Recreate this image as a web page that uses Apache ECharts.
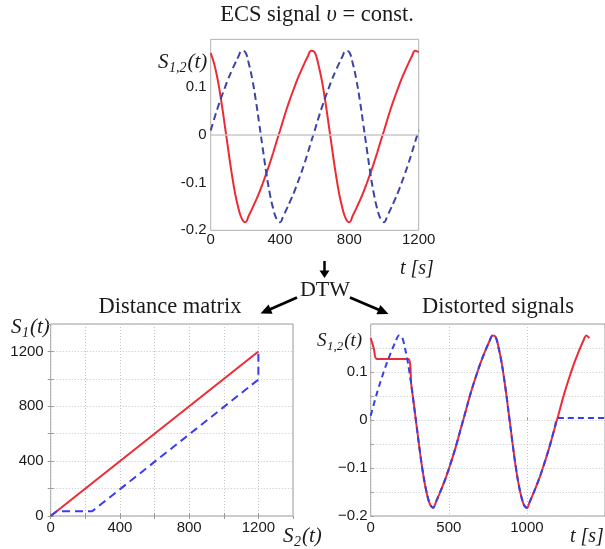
<!DOCTYPE html>
<html>
<head>
<meta charset="utf-8">
<script src="https://cdn.jsdelivr.net/npm/echarts@6/dist/echarts.min.js"></script>
<style>
  html, body { margin: 0; padding: 0; background: #fff; }
  #main { width: 605px; height: 549px; }
</style>
</head>
<body>
<div id="main"></div>
<script>
// ---- ECS signals at constant velocity (time in s) ----
const sampleTimes = [
  0, 20, 40, 60, 80, 100, 120, 140, 160, 180,
  200, 220, 240, 260, 280, 300, 320, 340, 360, 380,
  400, 420, 440, 460, 480, 500, 520, 540, 560, 580,
  600, 620, 640, 660, 680, 700, 720, 740, 760, 780,
  800, 820, 840, 860, 880, 900, 920, 940, 960, 980,
  1000, 1020, 1040, 1060, 1080, 1100, 1120, 1140, 1160, 1180, 1200
];
const signalS1 = [
  0.171, 0.149, 0.116, 0.073, 0.023, -0.028, -0.078, -0.121, -0.154, -0.176,
  -0.183, -0.169, -0.154, -0.138, -0.121, -0.102, -0.082, -0.061, -0.038, -0.014,
  0.009, 0.033, 0.056, 0.077, 0.097, 0.116, 0.133, 0.149, 0.164, 0.176,
  0.173, 0.149, 0.116, 0.073, 0.023, -0.028, -0.078, -0.121, -0.154, -0.176,
  -0.183, -0.169, -0.154, -0.138, -0.121, -0.102, -0.082, -0.061, -0.038, -0.014,
  0.009, 0.033, 0.056, 0.077, 0.097, 0.116, 0.133, 0.149, 0.164, 0.176, 0.173
];
const signalS2 = [
  0.009, 0.033, 0.056, 0.077, 0.097, 0.116, 0.133, 0.149, 0.164, 0.176,
  0.173, 0.149, 0.116, 0.073, 0.023, -0.028, -0.078, -0.121, -0.154, -0.176,
  -0.183, -0.169, -0.154, -0.138, -0.121, -0.102, -0.082, -0.061, -0.038, -0.014,
  0.009, 0.033, 0.056, 0.077, 0.097, 0.116, 0.133, 0.149, 0.164, 0.176,
  0.173, 0.149, 0.116, 0.073, 0.023, -0.028, -0.078, -0.121, -0.154, -0.176,
  -0.183, -0.169, -0.154, -0.138, -0.121, -0.102, -0.082, -0.061, -0.038, -0.014, 0.009
];

// ---- DTW distance matrix: identity diagonal and optimal warping path ----
const diagonalS2 = [0, 1200];
const diagonalS1 = [0, 1200];
const warpPathS2 = [0, 35, 240, 1200, 1200];
const warpPathS1 = [0, 35, 35, 995, 1200];

// ---- Signals after warping ----
const distortedTimesS1 = [
  0, 20, 40, 240, 260, 280, 300, 320, 340, 360, 380,
  400, 420, 440, 460, 480, 500, 520, 540, 560, 580,
  600, 620, 640, 660, 680, 700, 720, 740, 760, 780,
  800, 820, 840, 860, 880, 900, 920, 940, 960, 980,
  1000, 1020, 1040, 1060, 1080, 1100, 1120, 1140, 1160, 1180,
  1200, 1220, 1240, 1260, 1280, 1300, 1320, 1340, 1360, 1380, 1400
];
const distortedS1 = [
  0.171, 0.149, 0.127, 0.127, 0.073, 0.023, -0.028, -0.078, -0.121, -0.154, -0.176,
  -0.183, -0.169, -0.154, -0.138, -0.121, -0.102, -0.082, -0.061, -0.038, -0.014,
  0.009, 0.033, 0.056, 0.077, 0.097, 0.116, 0.133, 0.149, 0.164, 0.176,
  0.173, 0.149, 0.116, 0.073, 0.023, -0.028, -0.078, -0.121, -0.154, -0.176,
  -0.183, -0.169, -0.154, -0.138, -0.121, -0.102, -0.082, -0.061, -0.038, -0.014,
  0.009, 0.033, 0.056, 0.077, 0.097, 0.116, 0.133, 0.149, 0.164, 0.176, 0.171
];
const distortedTimesS2 = [
  0, 20, 40, 60, 80, 100, 120, 140, 160, 180,
  200, 220, 240, 260, 280, 300, 320, 340, 360, 380,
  400, 420, 440, 460, 480, 500, 520, 540, 560, 580,
  600, 620, 640, 660, 680, 700, 720, 740, 760, 780,
  800, 820, 840, 860, 880, 900, 920, 940, 960, 980,
  1000, 1020, 1040, 1060, 1080, 1100, 1120, 1140, 1160, 1180, 1200, 1500
];
const distortedS2 = [
  0.009, 0.033, 0.056, 0.077, 0.097, 0.116, 0.133, 0.149, 0.164, 0.176,
  0.173, 0.149, 0.116, 0.073, 0.023, -0.028, -0.078, -0.121, -0.154, -0.176,
  -0.183, -0.169, -0.154, -0.138, -0.121, -0.102, -0.082, -0.061, -0.038, -0.014,
  0.009, 0.033, 0.056, 0.077, 0.097, 0.116, 0.133, 0.149, 0.164, 0.176,
  0.173, 0.149, 0.116, 0.073, 0.023, -0.028, -0.078, -0.121, -0.154, -0.176,
  -0.183, -0.169, -0.154, -0.138, -0.121, -0.102, -0.082, -0.061, -0.038, -0.014, 0.004, 0.004
];

// ---- Text ----
const mainTitle = 'ECS signal ';
const mainTitleVar = 'υ';
const mainTitleTail = ' = const.';
const dtwText = 'DTW';
const matrixTitle = 'Distance matrix';
const distortedTitle = 'Distorted signals';
const timeLabel = 't [s]';

// ---- helpers ----
const zip = (xs, ys) => xs.map((x, i) => [x, ys[i]]);
const SERIF = '"Liberation Serif", "Times New Roman", serif';
const SANS = '"Liberation Sans", Arial, Helvetica, sans-serif';
const RED = '#ee2b35';
const INK = '#1a1a1a';
const FRAME = '#9a9a9a';

const measureCtx = document.createElement('canvas').getContext('2d');
function textWidth(font, s) { measureCtx.font = font; return measureCtx.measureText(s).width; }

function txt(x, y, text, font, align, extra) {
  return Object.assign({
    type: 'text', x: x, y: y, silent: true,
    style: { text: text, font: font, fill: INK, align: align || 'center', verticalAlign: 'middle' }
  }, extra || {});
}

// italic symbol with a subscript, e.g. S_{1,2}(t)
function subscripted(x, y, main, sub, tail, size, subSize) {
  const fMain = 'italic ' + size + 'px ' + SERIF;
  const fSub = 'italic ' + subSize + 'px ' + SERIF;
  const w1 = textWidth(fMain, main);
  const w2 = textWidth(fSub, sub);
  return [
    txt(x, y, main, fMain, 'left'),
    txt(x + w1 + 0.5, y + size * 0.3, sub, fSub, 'left'),
    txt(x + w1 + w2 + 1.5, y, tail, fMain, 'left')
  ];
}

function arrow(x1, y1, x2, y2, headLen, headHalf, width) {
  const dx = x2 - x1, dy = y2 - y1;
  const len = Math.sqrt(dx * dx + dy * dy);
  const ux = dx / len, uy = dy / len;
  const bx = x2 - ux * headLen, by = y2 - uy * headLen;
  return [
    { type: 'line', silent: true,
      shape: { x1: x1, y1: y1, x2: bx + ux, y2: by + uy },
      style: { stroke: '#000', lineWidth: width } },
    { type: 'polygon', silent: true,
      shape: { points: [[x2, y2], [bx - uy * headHalf, by + ux * headHalf], [bx + uy * headHalf, by - ux * headHalf]] },
      style: { fill: '#000' } }
  ];
}

const tickLabelStyle = { fontFamily: SANS, fontSize: 15, color: INK };
const dottedGrid = { show: true, lineStyle: { color: '#c4c4c4', type: [1, 2], width: 1 } };
const inTicks = { show: true, inside: true, length: 3, lineStyle: { color: FRAME } };
const isMultiple = (v, step) => Math.abs(v / step - Math.round(v / step)) < 1e-6;
const plainNumber = v => String(Math.round(v));

const chart = echarts.init(document.getElementById('main'), null, { renderer: 'canvas' });

const titleFont = '22.5px ' + SERIF;
const titleItalic = 'italic 22.5px ' + SERIF;
const wA = textWidth(titleFont, mainTitle);
const wB = textWidth(titleItalic, mainTitleVar);
const wC = textWidth(titleFont, mainTitleTail);
const titleLeft = 317 - (wA + wB + wC) / 2;

const graphics = [].concat(
  [
    txt(titleLeft, 15, mainTitle, titleFont, 'left'),
    txt(titleLeft + wA, 15, mainTitleVar, titleItalic, 'left'),
    txt(titleLeft + wA + wB, 15, mainTitleTail, titleFont, 'left'),
    txt(325, 290, dtwText, '22px ' + SERIF, 'center'),
    txt(170, 307, matrixTitle, '22.5px ' + SERIF, 'center'),
    txt(498, 307, distortedTitle, '22.5px ' + SERIF, 'center'),
    txt(400, 269, timeLabel, 'italic 20px ' + SERIF, 'left'),
    txt(570, 537, timeLabel, 'italic 20px ' + SERIF, 'left')
  ],
  subscripted(158, 62, 'S', '1,2', '(t)', 21, 14),
  subscripted(11, 327, 'S', '1', '(t)', 21, 14),
  subscripted(283, 536, 'S', '2', '(t)', 21, 14),
  subscripted(317, 341, 'S', '1,2', '(t)', 19, 13),
  arrow(324.5, 261, 324.5, 278, 7.5, 5, 2.5),
  arrow(297, 297.5, 260.5, 313.5, 11, 5, 2.8),
  arrow(350, 297.5, 388.5, 314, 11, 5, 2.8)
);

const option = {
  animation: false,
  backgroundColor: '#ffffff',
  grid: [
    { left: 210.7, top: 39.3, width: 208, height: 191, show: true, borderColor: '#b0b0b0', borderWidth: 1 },
    { left: 50.7, top: 324, width: 242.3, height: 192, show: true, borderColor: FRAME, borderWidth: 1 },
    { left: 370.7, top: 324, width: 245, height: 192, show: true, borderColor: FRAME, borderWidth: 1 }
  ],
  xAxis: [
    { type: 'value', gridIndex: 0, min: 0, max: 1200, interval: 400,
      axisLine: { show: false }, axisTick: { show: false }, splitLine: { show: false },
      axisLabel: Object.assign({ margin: 2, formatter: plainNumber }, tickLabelStyle) },
    { type: 'value', gridIndex: 1, min: 0, max: 1400, interval: 200,
      axisLine: { show: false }, axisTick: inTicks, splitLine: dottedGrid,
      axisLabel: Object.assign({ margin: 4, showMaxLabel: false,
        formatter: v => (isMultiple(v, 400) && v < 1400) ? plainNumber(v) : '' }, tickLabelStyle) },
    { type: 'value', gridIndex: 2, min: 0, max: 1500, interval: 500,
      axisLine: { show: false }, axisTick: inTicks, splitLine: dottedGrid,
      axisLabel: Object.assign({ margin: 4, showMaxLabel: false, formatter: plainNumber }, tickLabelStyle) },
    { type: 'value', gridIndex: 1, position: 'top', min: 0, max: 1400, interval: 200,
      axisLine: { show: false }, axisTick: inTicks, splitLine: { show: false }, axisLabel: { show: false } }
  ],
  yAxis: [
    { type: 'value', gridIndex: 0, min: -0.2, max: 0.2, interval: 0.1,
      axisLine: { show: false }, axisTick: { show: false }, splitLine: { show: false },
      axisLabel: Object.assign({ margin: 4, showMaxLabel: false,
        formatter: v => Math.abs(v) < 1e-9 ? '0' : (v > 0.19 ? '' : v.toFixed(1)) }, tickLabelStyle) },
    { type: 'value', gridIndex: 1, min: 0, max: 1400, interval: 200,
      axisLine: { show: false }, axisTick: inTicks, splitLine: dottedGrid,
      axisLabel: Object.assign({ margin: 7, showMaxLabel: false,
        formatter: v => (isMultiple(v, 400) && v < 1400) ? plainNumber(v) : '' }, tickLabelStyle) },
    { type: 'value', gridIndex: 2, min: -0.2, max: 0.2, interval: 0.05,
      axisLine: { show: false }, axisTick: inTicks, splitLine: dottedGrid,
      axisLabel: Object.assign({ margin: 3, showMaxLabel: false,
        formatter: v => {
          if (Math.abs(v) < 1e-9) return '0';
          if (!isMultiple(v, 0.1) || v > 0.19) return '';
          return (v < 0 ? '\u2212' : '') + Math.abs(v).toFixed(1);
        } }, tickLabelStyle) },
    { type: 'value', gridIndex: 1, position: 'right', min: 0, max: 1400, interval: 200,
      axisLine: { show: false }, axisTick: inTicks, splitLine: { show: false }, axisLabel: { show: false } }
  ],
  series: [
    // zero reference line of the ECS plot
    { type: 'line', xAxisIndex: 0, yAxisIndex: 0, data: [], silent: true,
      markLine: { silent: true, symbol: 'none', label: { show: false },
        lineStyle: { color: '#c9c9c9', type: 'solid', width: 1.5 }, data: [{ yAxis: 0 }] } },
    { name: 'S1', type: 'line', xAxisIndex: 0, yAxisIndex: 0, data: zip(sampleTimes, signalS1),
      showSymbol: false, smooth: 0.45, lineStyle: { color: RED, width: 2 } },
    { name: 'S2', type: 'line', xAxisIndex: 0, yAxisIndex: 0, data: zip(sampleTimes, signalS2),
      showSymbol: false, smooth: 0.45, lineStyle: { color: '#3d43a6', width: 2, type: [7, 4] } },
    { name: 'diagonal', type: 'line', xAxisIndex: 1, yAxisIndex: 1, data: zip(diagonalS2, diagonalS1),
      showSymbol: false, lineStyle: { color: RED, width: 2 } },
    { name: 'warping path', type: 'line', xAxisIndex: 1, yAxisIndex: 1, data: zip(warpPathS2, warpPathS1),
      showSymbol: false, lineStyle: { color: '#3a3cf0', width: 2, type: [8, 5] } },
    { name: 'S1 warped', type: 'line', xAxisIndex: 2, yAxisIndex: 2, data: zip(distortedTimesS1, distortedS1),
      showSymbol: false, smooth: 0.3, lineStyle: { color: RED, width: 2 } },
    { name: 'S2 warped', type: 'line', xAxisIndex: 2, yAxisIndex: 2, data: zip(distortedTimesS2, distortedS2),
      showSymbol: false, smooth: 0.3, lineStyle: { color: '#3341e6', width: 2, type: [6, 4] } }
  ],
  graphic: { elements: graphics }
};

chart.setOption(option);
</script>
</body>
</html>
